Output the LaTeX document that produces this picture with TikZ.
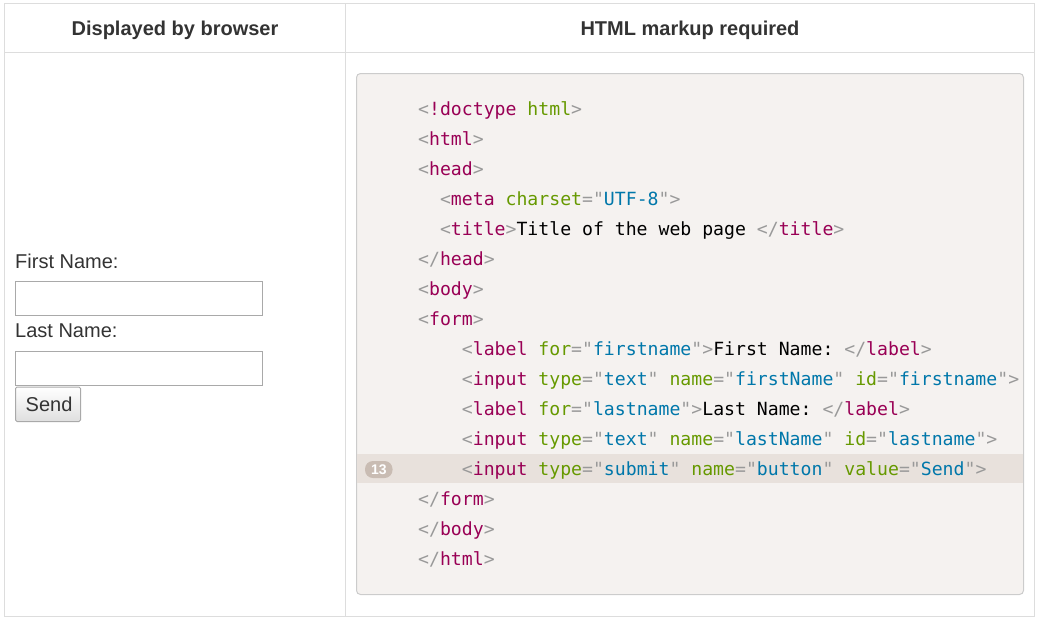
\documentclass[tikz,border=0pt]{standalone}
\usepackage{fontspec}
\setmainfont{Liberation Sans}
\setsansfont{Liberation Sans}
\setmonofont{DejaVu Sans Mono}
\definecolor{cgrid}{HTML}{DDDDDD}
\definecolor{ctext}{HTML}{333333}
\definecolor{cpunct}{HTML}{999999}
\definecolor{ctag}{HTML}{990055}
\definecolor{cattr}{HTML}{669900}
\definecolor{cval}{HTML}{0077AA}
\definecolor{cbox}{HTML}{F5F2F0}
\definecolor{cboxborder}{HTML}{CCCCCC}
\definecolor{chl}{HTML}{E8E1DC}
\definecolor{cpill}{HTML}{C9BCB3}
\definecolor{cinput}{HTML}{A9A9A9}
\newcommand\Pu[1]{\textcolor{cpunct}{#1}}
\newcommand\Tg[1]{\textcolor{ctag}{#1}}
\newcommand\At[1]{\textcolor{cattr}{#1}}
\newcommand\Va[1]{\Pu{"}\textcolor{cval}{#1}\Pu{"}}
\newcommand\Eq{\Pu{=}}
\tikzset{
  grid/.style={draw=cgrid, line width=1pt},
  header/.style={font=\fontsize{20}{22}\selectfont\bfseries, text=ctext, anchor=base, inner sep=0pt},
  codeline/.style={font=\ttfamily\fontsize{18.15}{20}\selectfont, anchor=base west, inner sep=0pt},
  formlabel/.style={font=\fontsize{20}{22}\selectfont, text=ctext, anchor=base west, inner sep=0pt},
  inputbox/.style={draw=cinput, line width=1pt, fill=white},
}
\begin{document}
\begin{tikzpicture}[x=1pt, y=-1pt]
\useasboundingbox (0,0) rectangle (1039,622);
% table
\draw[grid] (4.5,3.5) rectangle (1034.5,616.5);
\draw[grid] (4.5,52.5) -- (1034.5,52.5);
\draw[grid] (345.5,3.5) -- (345.5,616.5);
\node[header] (h1) at (175,35) {Displayed by browser};
\node[header] (h2) at (690,35) {HTML markup required};
% browser form
\node[formlabel] (fn) at (15,268) {First Name:};
\draw[inputbox] (15.5,281.5) rectangle (262.5,315.5);
\node[formlabel] (ln) at (15,337) {Last Name:};
\draw[inputbox] (15.5,351.5) rectangle (262.5,385.5);
\shade[top color=white, bottom color=gray!25, draw=cinput, line width=1pt, rounded corners=1.5pt] (15.5,387) rectangle (80.5,421.5);
\node[formlabel] (send) at (25.5,411) {Send};
% code box
\draw[draw=cboxborder, fill=cbox, line width=1pt, rounded corners=4pt] (356.5,73.5) rectangle (1023.5,594.5);
\fill[chl] (357,454) rectangle (1023,483);
\fill[cpill, rounded corners=8pt] (365,461) rectangle (392.5,478);
\node[font=\fontsize{14}{14}\selectfont\bfseries, text=white, inner sep=0pt] (num) at (378.8,469.5) {13};
\foreach \i/\ind/\txt in {
  0/0/{\Pu{<}\Tg{!doctype} \At{html}\Pu{>}},
  1/0/{\Pu{<}\Tg{html}\Pu{>}},
  2/0/{\Pu{<}\Tg{head}\Pu{>}},
  3/2/{\Pu{<}\Tg{meta} \At{charset}\Eq\Va{UTF-8}\Pu{>}},
  4/2/{\Pu{<}\Tg{title}\Pu{>}Title of the web page \Pu{</}\Tg{title}\Pu{>}},
  5/0/{\Pu{</}\Tg{head}\Pu{>}},
  6/0/{\Pu{<}\Tg{body}\Pu{>}},
  7/0/{\Pu{<}\Tg{form}\Pu{>}},
  8/4/{\Pu{<}\Tg{label} \At{for}\Eq\Va{firstname}\Pu{>}First Name: \Pu{</}\Tg{label}\Pu{>}},
  9/4/{\Pu{<}\Tg{input} \At{type}\Eq\Va{text} \At{name}\Eq\Va{firstName} \At{id}\Eq\Va{firstname}\Pu{>}},
  10/4/{\Pu{<}\Tg{label} \At{for}\Eq\Va{lastname}\Pu{>}Last Name: \Pu{</}\Tg{label}\Pu{>}},
  11/4/{\Pu{<}\Tg{input} \At{type}\Eq\Va{text} \At{name}\Eq\Va{lastName} \At{id}\Eq\Va{lastname}\Pu{>}},
  12/4/{\Pu{<}\Tg{input} \At{type}\Eq\Va{submit} \At{name}\Eq\Va{button} \At{value}\Eq\Va{Send}\Pu{>}},
  13/0/{\Pu{</}\Tg{form}\Pu{>}},
  14/0/{\Pu{</}\Tg{body}\Pu{>}},
  15/0/{\Pu{</}\Tg{html}\Pu{>}}
}{
  \node[codeline] (c\i) at ({418+10.93*\ind},{115+30*\i}) {\txt};
}
\end{tikzpicture}
\end{document}
